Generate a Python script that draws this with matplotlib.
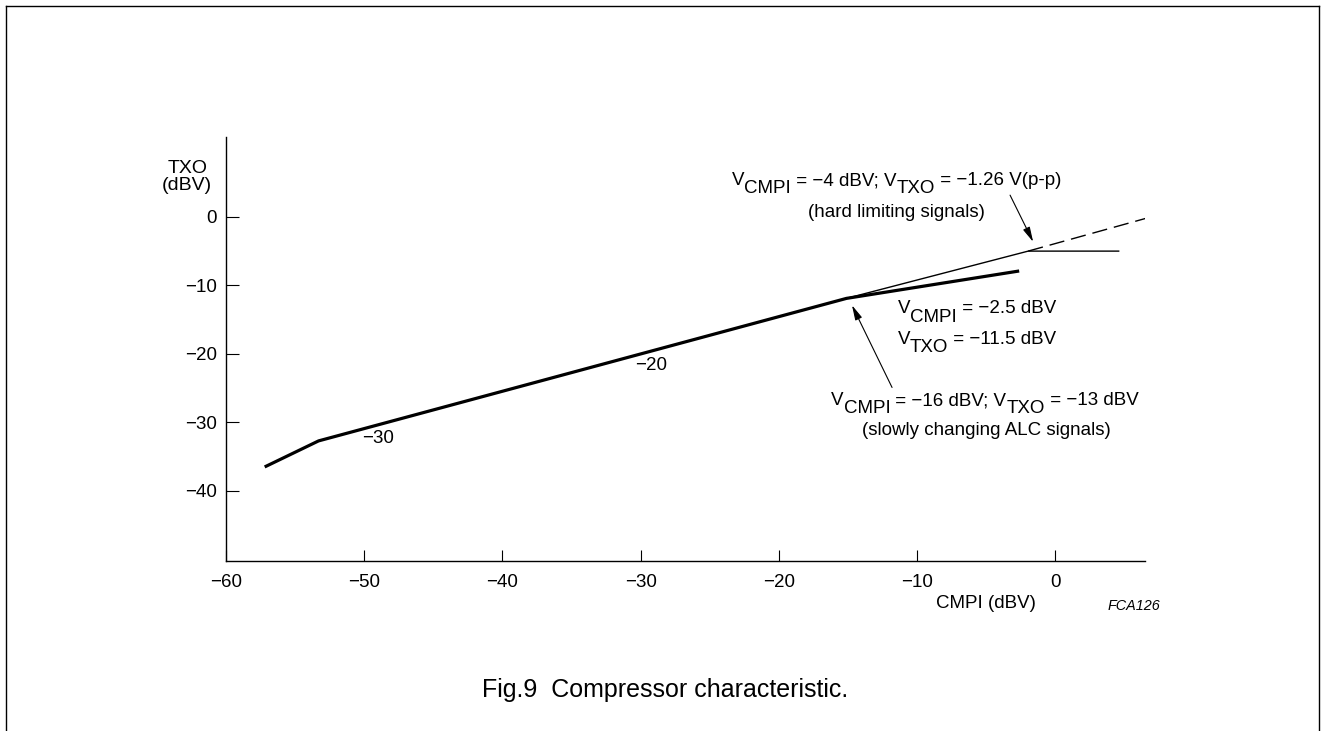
import matplotlib
matplotlib.use("Agg")
import matplotlib.pyplot as plt
from matplotlib.lines import Line2D

plt.rcParams['font.family'] = ['Liberation Sans', 'DejaVu Sans']

# compressor curve (thick), ideal line + limiter (thin), extension (dashed)
curve_x = [-57.2, -53.3, -15.1, -2.6]
curve_y = [-36.5, -32.7, -11.9, -7.9]
limit_x = [-15.1, -1.95, 4.6]
limit_y = [-11.9, -5.0, -5.0]
ext_x = [-1.95, 6.6]
ext_y = [-5.0, -0.2]

x_ticks = [-60, -50, -40, -30, -20, -10, 0]
y_ticks = [0, -10, -20, -30, -40]

# gain labels on the curve: (x, y, text)
curve_labels = [(-49.0, -32.3, '\u221230'), (-29.2, -21.65, '\u221220')]

TICK = 13.5  # tick labels / curve labels
LBL = 14.0   # axis titles
ANN = 13.5   # annotation text


def chain_text(ax, x, y, parts, size=ANN, drop=5.8):
    # draws text pieces one after another, subscripts dropped at full size
    prev = ax.text(x, y, parts[0][0], fontsize=size, ha='left', va='baseline')
    level = parts[0][1]
    for s, sub in parts[1:]:
        shift = 0
        if sub and not level:
            shift = -drop
        elif level and not sub:
            shift = drop
        prev = ax.annotate(s, xy=(1, 0), xycoords=prev, xytext=(0, shift),
                           textcoords='offset points', fontsize=size,
                           ha='left', va='bottom')
        level = sub
    return prev


fig = plt.figure(figsize=(13.27, 7.31), dpi=100)
ax = fig.add_axes([0.1703, 0.2319, 0.6925, 0.5811])

ax.plot(curve_x, curve_y, color='black', lw=2.3, solid_capstyle='butt')
ax.plot(limit_x, limit_y, color='black', lw=1.0)
ax.plot(ext_x, ext_y, color='black', lw=1.0, dashes=(11, 5))

ax.set_xlim(-60, 6.5)
ax.set_ylim(-50.3, 11.7)
ax.set_xticks(x_ticks)
ax.set_yticks(y_ticks)
ax.tick_params(axis='x', direction='in', length=8, width=0.8, pad=9, labelsize=TICK)
ax.tick_params(axis='y', direction='in', length=9, width=0.8, pad=6.5, labelsize=TICK)
for side in ['top', 'right']:
    ax.spines[side].set_visible(False)
for side in ['left', 'bottom']:
    ax.spines[side].set_linewidth(1.0)

for lx, ly, lt in curve_labels:
    ax.text(lx, ly, lt, fontsize=TICK, ha='center', va='center')

# axis titles
ax.text(-62.8, 6.4, 'TXO', fontsize=LBL, ha='center', va='baseline', clip_on=False)
ax.text(-62.8, 3.9, '(dBV)', fontsize=LBL, ha='center', va='baseline', clip_on=False)
ax.text(-5.0, -57.1, 'CMPI (dBV)', fontsize=TICK, ha='center', va='baseline', clip_on=False)
ax.text(5.7, -57.4, 'FCA126', fontsize=10.4, style='italic', ha='center',
        va='baseline', clip_on=False)

# annotations
chain_text(ax, -23.4, 4.6, [('V', 0), ('CMPI', 1), (' = \u22124 dBV; V', 0),
                            ('TXO', 1), (' = \u22121.26 V(p-p)', 0)])
ax.text(-11.5, -0.04, '(hard limiting signals)', fontsize=ANN, ha='center', va='baseline')

chain_text(ax, -11.4, -14.1, [('V', 0), ('CMPI', 1), (' = \u22122.5 dBV', 0)])
chain_text(ax, -11.4, -18.6, [('V', 0), ('TXO', 1), (' = \u221211.5 dBV', 0)])

chain_text(ax, -16.2, -27.5, [('V', 0), ('CMPI', 1), (' = \u221216 dBV; V', 0),
                              ('TXO', 1), (' = \u221213 dBV', 0)])
ax.text(-5.0, -31.9, '(slowly changing ALC signals)', fontsize=ANN, ha='center', va='baseline')

arrow = dict(arrowstyle='-|>,head_length=0.9,head_width=0.22', color='black',
             lw=0.8, shrinkA=0, shrinkB=0)
ax.annotate('', xy=(-1.59, -3.65), xytext=(-3.26, 3.17), arrowprops=arrow)
ax.annotate('', xy=(-14.7, -12.9), xytext=(-11.8, -24.9), arrowprops=arrow)

# caption
fig.text(0.501, 0.047, 'Fig.9  Compressor characteristic.', fontsize=18,
         ha='center', va='baseline')

# frame around the figure (bottom edge runs off the picture)
bx0, bx1, by1 = 6 / 1327, 1319 / 1327, 1 - 6 / 731
for xs, ys in [([bx0, bx0], [0, by1]), ([bx0, bx1], [by1, by1]), ([bx1, bx1], [by1, 0])]:
    fig.add_artist(Line2D(xs, ys, transform=fig.transFigure, color='black', lw=1.0))

fig.savefig('out.png', dpi=100, facecolor='white')
